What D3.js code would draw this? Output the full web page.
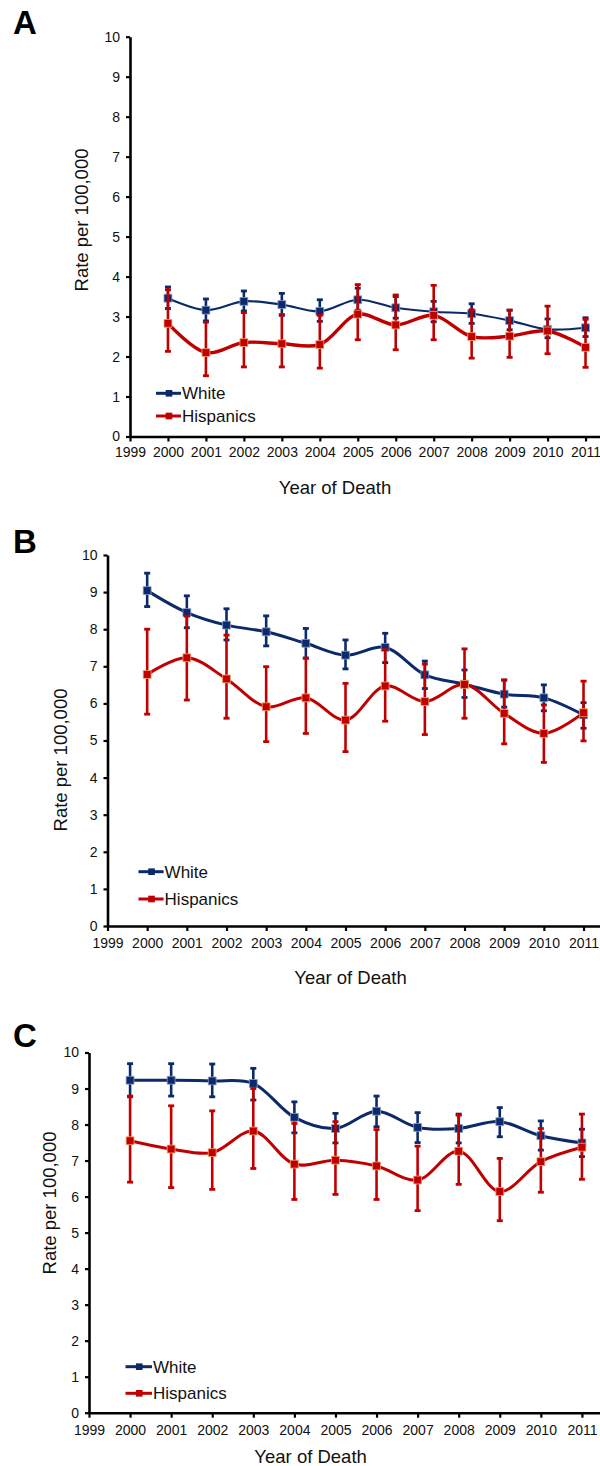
<!DOCTYPE html>
<html>
<head>
<meta charset="utf-8">
<script src="https://cdn.jsdelivr.net/npm/d3@7"></script>
<style>
  body { margin: 0; background: #fff; }
  svg { display: block; font-family: "Liberation Sans", Arial, sans-serif; }
</style>
</head>
<body>
<script>
// ---- data ----
const years = [2000, 2001, 2002, 2003, 2004, 2005, 2006, 2007, 2008, 2009, 2010, 2011];
const tickYears = [1999, 2000, 2001, 2002, 2003, 2004, 2005, 2006, 2007, 2008, 2009, 2010, 2011];
const yTicks = [0, 1, 2, 3, 4, 5, 6, 7, 8, 9, 10];
const seriesNames = ['White', 'Hispanics'];

// Panel A
const whiteA   = [3.46, 3.16, 3.38, 3.30, 3.13, 3.42, 3.22, 3.12, 3.07, 2.90, 2.68, 2.72];
const whiteALo = [3.20, 2.89, 3.14, 3.03, 2.88, 3.16, 2.96, 2.87, 2.83, 2.67, 2.47, 2.50];
const whiteAHi = [3.74, 3.44, 3.64, 3.58, 3.42, 3.71, 3.50, 3.38, 3.32, 3.16, 2.94, 2.97];
const hispA    = [2.83, 2.10, 2.35, 2.32, 2.30, 3.06, 2.79, 3.03, 2.50, 2.51, 2.64, 2.23];
const hispALo  = [2.13, 1.52, 1.74, 1.74, 1.71, 2.42, 2.17, 2.42, 1.96, 1.98, 2.07, 1.73];
const hispAHi  = [3.67, 2.86, 3.10, 3.05, 3.03, 3.80, 3.54, 3.78, 3.17, 3.16, 3.26, 2.93];

// Panel B
const whiteB   = [9.04, 8.45, 8.11, 7.93, 7.62, 7.30, 7.51, 6.77, 6.52, 6.25, 6.15, 5.69];
const whiteBLo = [8.61, 8.04, 7.71, 7.55, 7.22, 6.93, 7.10, 6.40, 6.16, 5.90, 5.80, 5.33];
const whiteBHi = [9.51, 8.90, 8.55, 8.36, 8.02, 7.71, 7.89, 7.14, 6.90, 6.63, 6.50, 6.02];
const hispB    = [6.78, 7.23, 6.66, 5.91, 6.15, 5.55, 6.47, 6.05, 6.51, 5.73, 5.19, 5.75];
const hispBLo  = [5.71, 6.09, 5.60, 4.97, 5.19, 4.70, 5.52, 5.16, 5.60, 4.91, 4.41, 4.99];
const hispBHi  = [8.00, 8.35, 7.84, 6.99, 7.22, 6.54, 7.45, 7.06, 7.47, 6.63, 5.96, 6.60];

// Panel C
const whiteC   = [9.23, 9.23, 9.21, 9.14, 8.20, 7.89, 8.37, 7.92, 7.89, 8.08, 7.69, 7.49];
const whiteCLo = [8.77, 8.79, 8.77, 8.68, 7.77, 7.49, 7.94, 7.50, 7.49, 7.66, 7.29, 7.11];
const whiteCHi = [9.69, 9.69, 9.68, 9.56, 8.63, 8.31, 8.79, 8.33, 8.29, 8.47, 8.10, 7.87];
const hispC    = [7.55, 7.32, 7.22, 7.82, 6.90, 7.01, 6.85, 6.46, 7.26, 6.14, 6.97, 7.37];
const hispCLo  = [6.40, 6.25, 6.20, 6.78, 5.92, 6.06, 5.92, 5.61, 6.34, 5.33, 6.12, 6.48];
const hispCHi  = [8.79, 8.52, 8.38, 9.00, 8.03, 8.08, 7.86, 7.40, 8.26, 7.06, 7.89, 8.29];

// ---- layout ----
const colors = { White: '#0c2a6a', Hispanics: '#c00000' };
const markerStroke = { White: '#8c9cc8', Hispanics: '#f2a66a' };

const panels = [
  { letter: 'A', letterY: 34, x0: 130, x1: 623.5, yTop: 36.7, yBot: 436.5, pad: 5.5,
    yodX: 335, yodY: 487.5, ylabX: 82, ylabY: 220, legX: 156, legY: [393.3, 416], textX: 182,
    lw: { White: 2.2, Hispanics: 3.4 },
    series: [[whiteA, whiteALo, whiteAHi], [hispA, hispALo, hispAHi]] },
  { letter: 'B', letterY: 553, x0: 107.5, x1: 623.2, yTop: 555, yBot: 926, pad: 7,
    yodX: 350.5, yodY: 977.7, ylabX: 61, ylabY: 760, legX: 138.5, legY: [871.7, 899], textX: 164.6,
    lw: { White: 3, Hispanics: 3 },
    series: [[whiteB, whiteBLo, whiteBHi], [hispB, hispBLo, hispBHi]] },
  { letter: 'C', letterY: 1046.7, x0: 89, x1: 623, yTop: 1052.5, yBot: 1412.7, pad: 7.5,
    yodX: 310.6, yodY: 1456.7, ylabX: 50, ylabY: 1203, legX: 125.5, legY: [1366.7, 1393.3], textX: 153,
    lw: { White: 3, Hispanics: 3 },
    series: [[whiteC, whiteCLo, whiteCHi], [hispC, hispCLo, hispCHi]] }
];

const svg = d3.select('body').append('svg')
  .attr('width', 600)
  .attr('height', 1466);

const square = d3.symbol().type(d3.symbolSquare).size(62);

panels.forEach(function (p) {
  const x = d3.scaleLinear().domain([1999, 2012]).range([p.x0, p.x1]);
  const y = d3.scaleLinear().domain([0, 10]).range([p.yBot, p.yTop]);
  const g = svg.append('g');

  // panel letter
  g.append('text')
    .attr('x', 13).attr('y', p.letterY)
    .style('font-weight', 700).style('font-size', '33px')
    .text(p.letter);

  // Y axis
  const yAxis = g.append('g')
    .attr('transform', 'translate(' + p.x0 + ',0)')
    .call(d3.axisLeft(y).tickValues(yTicks).tickSize(4).tickSizeOuter(0).tickPadding(6));

  // X axis
  const xAxis = g.append('g')
    .attr('transform', 'translate(0,' + p.yBot + ')')
    .call(d3.axisBottom(x).tickValues(tickYears).tickFormat(d3.format('d'))
      .tickSize(5).tickSizeOuter(0).tickPadding(p.pad));

  [yAxis, xAxis].forEach(function (a) {
    a.select('.domain').attr('stroke', '#000').attr('stroke-width', 2.6);
    a.selectAll('.tick line').attr('stroke', '#000').attr('stroke-width', 2.2);
    a.selectAll('.tick text').attr('fill', '#111')
      .style('font-size', '14px')
      .style('font-family', '"Liberation Sans", Arial, sans-serif');
  });

  // axis titles
  g.append('text')
    .attr('x', p.yodX).attr('y', p.yodY).attr('dy', '0.35em')
    .attr('text-anchor', 'middle')
    .style('font-size', '18.5px').attr('fill', '#111')
    .text('Year of Death');

  g.append('text')
    .attr('transform', 'translate(' + p.ylabX + ',' + p.ylabY + ') rotate(-90)')
    .attr('dy', '0.35em')
    .attr('text-anchor', 'middle')
    .style('font-size', '18.5px').attr('fill', '#111')
    .text('Rate per 100,000');

  // series
  const line = d3.line()
    .x(function (d) { return x(d.year); })
    .y(function (d) { return y(d.v); })
    .curve(d3.curveCatmullRom.alpha(0.5));

  p.series.forEach(function (s, si) {
    const name = seriesNames[si];
    const rows = years.map(function (yr, i) {
      return { year: yr, v: s[0][i], lo: s[1][i], hi: s[2][i] };
    });
    const sg = g.append('g');

    // error bars
    const eb = sg.selectAll('g.err').data(rows).enter().append('g');
    eb.append('line')
      .attr('x1', function (d) { return x(d.year); })
      .attr('x2', function (d) { return x(d.year); })
      .attr('y1', function (d) { return y(d.lo); })
      .attr('y2', function (d) { return y(d.hi); })
      .attr('stroke', colors[name]).attr('stroke-width', 2.6);
    ['lo', 'hi'].forEach(function (k) {
      eb.append('line')
        .attr('x1', function (d) { return x(d.year) - 3; })
        .attr('x2', function (d) { return x(d.year) + 3; })
        .attr('y1', function (d) { return y(d[k]); })
        .attr('y2', function (d) { return y(d[k]); })
        .attr('stroke', colors[name]).attr('stroke-width', 2.8);
    });

    sg.append('path')
      .datum(rows)
      .attr('d', line)
      .attr('fill', 'none')
      .attr('stroke', colors[name])
      .attr('stroke-width', p.lw[name]);

    sg.selectAll('path.mk').data(rows).enter().append('path')
      .attr('class', 'mk')
      .attr('d', square)
      .attr('transform', function (d) { return 'translate(' + x(d.year) + ',' + y(d.v) + ')'; })
      .attr('fill', colors[name])
      .attr('stroke', markerStroke[name]).attr('stroke-width', 0.8);
  });

  // legend
  seriesNames.forEach(function (name, i) {
    const ly = p.legY[i];
    g.append('line')
      .attr('x1', p.legX).attr('x2', p.textX - 1)
      .attr('y1', ly).attr('y2', ly)
      .attr('stroke', colors[name]).attr('stroke-width', 3);
    g.append('path')
      .attr('d', d3.symbol().type(d3.symbolSquare).size(44)())
      .attr('transform', 'translate(' + ((p.legX + p.textX) / 2) + ',' + ly + ')')
      .attr('fill', colors[name]);
    g.append('text')
      .attr('x', p.textX).attr('y', ly).attr('dy', '0.35em')
      .style('font-size', '17px').attr('fill', '#111')
      .text(name);
  });
});
</script>
</body>
</html>
